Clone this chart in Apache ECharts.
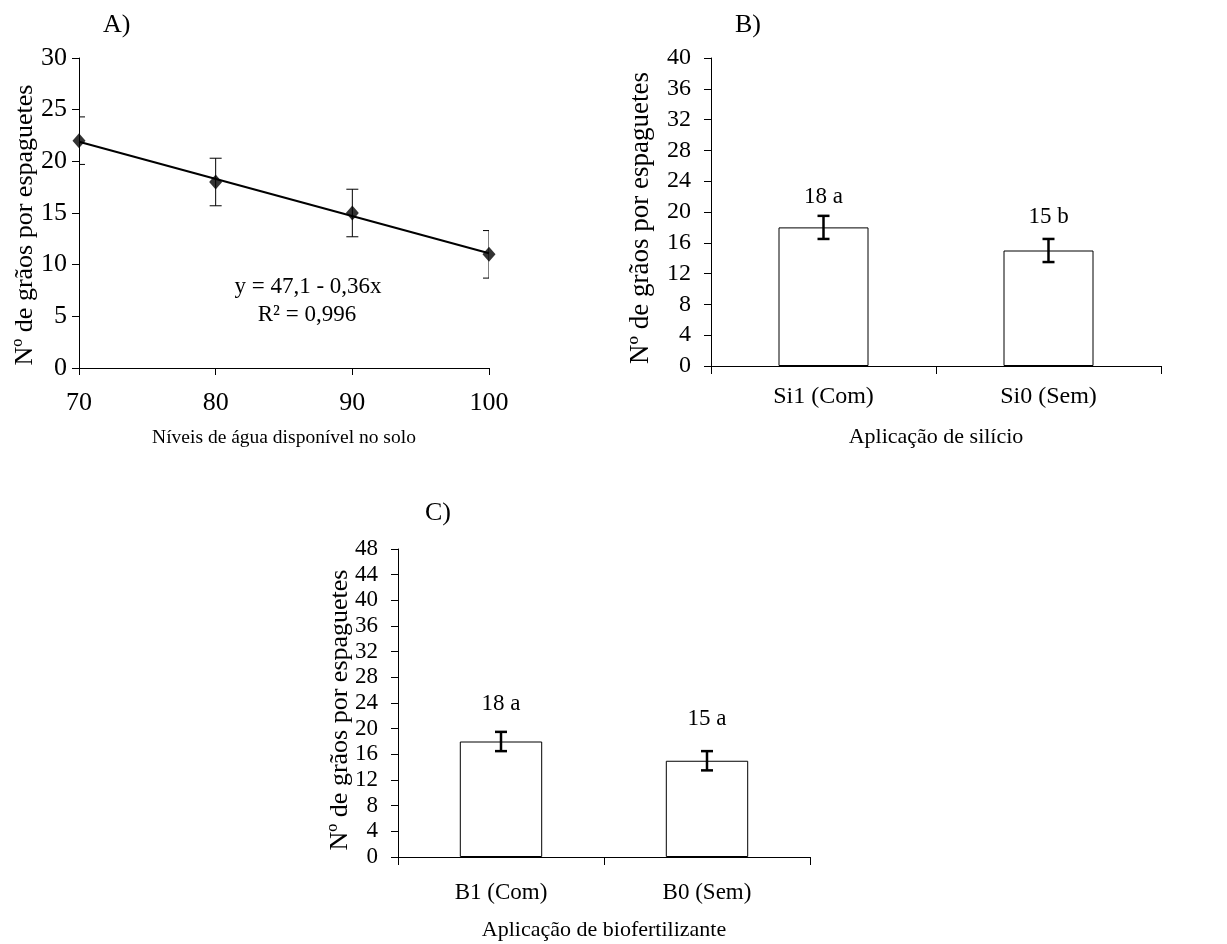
<!DOCTYPE html>
<html>
<head>
<meta charset="utf-8">
<script src="https://cdn.jsdelivr.net/npm/echarts@6/dist/echarts.min.js"></script>
<style>
  html, body { margin: 0; padding: 0; background: #fff; }
  #chart { width: 1227px; height: 944px; }
</style>
</head>
<body>
<div id="chart"></div>
<script>
// Panel A: grains per spikelet vs available soil water level
const levelsA = [70, 80, 90, 100];
const grainsA = [22, 18, 15, 11];
const errA = [2.3, 2.3, 2.3, 2.3];
const fitA = { intercept: 47.1, slope: -0.36, r2: '0,996' };

// Panel B: silicon application
const catsB = ['Si1 (Com)', 'Si0 (Sem)'];
const valsB = [18, 15];
const errB = [1.5, 1.5];
const lettersB = ['a', 'b'];

// Panel C: biofertilizer application
const catsC = ['B1 (Com)', 'B0 (Sem)'];
const valsC = [18, 15];
const errC = [1.5, 1.5];
const lettersC = ['a', 'a'];

const FONT = "'Liberation Serif', 'Times New Roman', serif";
const yTitle = 'Nº de grãos por espaguetes';

function errorBarRenderer(lineWidth, halfCap) {
  return function (params, api) {
    const x = api.value(0);
    const lo = api.coord([x, api.value(1)]);
    const hi = api.coord([x, api.value(2)]);
    const st = { stroke: '#000', lineWidth: lineWidth };
    return {
      type: 'group',
      children: [
        { type: 'line', shape: { x1: lo[0], y1: lo[1], x2: hi[0], y2: hi[1] }, style: st },
        { type: 'line', shape: { x1: lo[0] - halfCap, y1: lo[1], x2: lo[0] + halfCap, y2: lo[1] }, style: st },
        { type: 'line', shape: { x1: hi[0] - halfCap, y1: hi[1], x2: hi[0] + halfCap, y2: hi[1] }, style: st }
      ]
    };
  };
}

const axisLineBlack = { show: true, lineStyle: { color: '#000', width: 1 } };
const tickBlack = { show: true, length: 7, lineStyle: { color: '#000', width: 1 } };

function valueYAxis(gridIndex, max, interval, fontSize, margin) {
  return {
    type: 'value', gridIndex, min: 0, max, interval,
    axisLine: axisLineBlack, axisTick: tickBlack,
    axisLabel: { fontFamily: FONT, fontSize, color: '#000', margin },
    splitLine: { show: false }
  };
}

function catXAxis(gridIndex, cats, title, labelSize, margin, nameGap) {
  return {
    type: 'category', gridIndex, data: cats, boundaryGap: true,
    name: title, nameLocation: 'middle', nameGap,
    nameTextStyle: { fontFamily: FONT, fontSize: 22, color: '#000' },
    axisLine: axisLineBlack,
    axisTick: { show: true, length: 8, alignWithLabel: false, lineStyle: { color: '#000' } },
    axisLabel: { fontFamily: FONT, fontSize: labelSize, color: '#000', margin }
  };
}

function barData(vals, dists) {
  return vals.map((v, i) => ({ value: v, label: { distance: dists[i] } }));
}

// vertical axis title, reading bottom to top
function sideTitle(x, y, size) {
  return {
    type: 'text', x, y, rotation: Math.PI / 2,
    style: { text: yTitle, font: size + 'px ' + FONT, fill: '#000', align: 'center', verticalAlign: 'middle' }
  };
}

const chart = echarts.init(document.getElementById('chart'), null, { renderer: 'canvas' });

const option = {
  backgroundColor: '#fff',
  animation: false,
  grid: [
    { left: 79, top: 58, width: 410, height: 310 },
    { left: 711, top: 58, width: 450, height: 308 },
    { left: 398, top: 549, width: 412, height: 308 }
  ],
  xAxis: [
    {
      type: 'value', gridIndex: 0, min: 70, max: 100, interval: 10,
      name: 'Níveis de água disponível no solo', nameLocation: 'middle', nameGap: 60,
      nameTextStyle: { fontFamily: FONT, fontSize: 19.5, color: '#000' },
      axisLine: axisLineBlack, axisTick: tickBlack,
      axisLabel: { fontFamily: FONT, fontSize: 26, color: '#000', margin: 22 },
      splitLine: { show: false }
    },
    catXAxis(1, catsB, 'Aplicação de silício', 24, 19, 60),
    catXAxis(2, catsC, 'Aplicação de biofertilizante', 23, 24, 62)
  ],
  yAxis: [
    valueYAxis(0, 30, 5, 26, 12),
    valueYAxis(1, 40, 4, 24, 20),
    valueYAxis(2, 48, 4, 23, 20)
  ],
  graphic: [
    sideTitle(25, 225, 26),
    sideTitle(641, 218, 27),
    sideTitle(340, 710, 26),
    { type: 'text', left: 103, top: 12, style: { text: 'A)', font: '26px ' + FONT, fill: '#000' } },
    { type: 'text', left: 735, top: 12, style: { text: 'B)', font: '26px ' + FONT, fill: '#000' } },
    { type: 'text', left: 425, top: 500, style: { text: 'C)', font: '26px ' + FONT, fill: '#000' } },
    {
      type: 'text', x: 308, y: 287,
      style: {
        text: 'y = ' + String(fitA.intercept).replace('.', ',') + ' - ' + String(-fitA.slope).replace('.', ',') + 'x',
        font: '23px ' + FONT, fill: '#000', align: 'center', verticalAlign: 'middle'
      }
    },
    {
      type: 'text', x: 307, y: 315,
      style: { text: 'R² = ' + fitA.r2, font: '23px ' + FONT, fill: '#000', align: 'center', verticalAlign: 'middle' }
    }
  ],
  series: [
    // A: fitted line
    {
      type: 'line', xAxisIndex: 0, yAxisIndex: 0, symbol: 'none', z: 2,
      lineStyle: { color: '#000', width: 2 },
      data: [levelsA[0], levelsA[levelsA.length - 1]].map(x => [x, fitA.intercept + fitA.slope * x])
    },
    // A: error bars (clipped to the plot area)
    {
      type: 'custom', xAxisIndex: 0, yAxisIndex: 0, z: 3, clip: true,
      renderItem: errorBarRenderer(1, 6),
      encode: { x: 0, y: [1, 2] },
      data: levelsA.map((x, i) => [x, grainsA[i] - errA[i], grainsA[i] + errA[i]])
    },
    // A: observed means
    {
      type: 'scatter', xAxisIndex: 0, yAxisIndex: 0, z: 4,
      symbol: 'diamond', symbolSize: [13, 15],
      itemStyle: { color: '#000' },
      data: levelsA.map((x, i) => [x, grainsA[i]])
    },
    // B: bars
    {
      type: 'bar', xAxisIndex: 1, yAxisIndex: 1, barWidth: '40%',
      itemStyle: { color: '#fff', borderColor: '#000', borderWidth: 1 },
      label: {
        show: true, position: 'top', fontFamily: FONT, fontSize: 23, color: '#000',
        formatter: p => p.value + ' ' + lettersB[p.dataIndex]
      },
      data: barData(valsB, [19, 22])
    },
    {
      type: 'custom', xAxisIndex: 1, yAxisIndex: 1, z: 5,
      renderItem: errorBarRenderer(2.5, 6),
      encode: { x: 0, y: [1, 2] },
      data: valsB.map((v, i) => [i, v - errB[i], v + errB[i]])
    },
    // C: bars
    {
      type: 'bar', xAxisIndex: 2, yAxisIndex: 2, barWidth: '40%',
      itemStyle: { color: '#fff', borderColor: '#000', borderWidth: 1 },
      label: {
        show: true, position: 'top', fontFamily: FONT, fontSize: 23, color: '#000',
        formatter: p => p.value + ' ' + lettersC[p.dataIndex]
      },
      data: barData(valsC, [26, 30])
    },
    {
      type: 'custom', xAxisIndex: 2, yAxisIndex: 2, z: 5,
      renderItem: errorBarRenderer(2.5, 6),
      encode: { x: 0, y: [1, 2] },
      data: valsC.map((v, i) => [i, v - errC[i], v + errC[i]])
    }
  ]
};

chart.setOption(option);
</script>
</body>
</html>
